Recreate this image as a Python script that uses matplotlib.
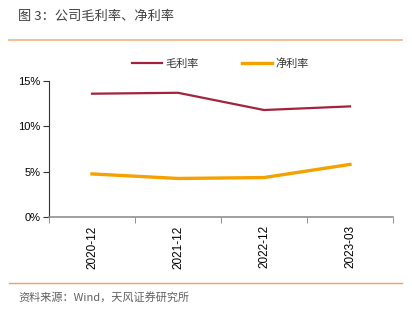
import matplotlib
matplotlib.use("Agg")
import matplotlib.pyplot as plt
from matplotlib.lines import Line2D

plt.rcParams['font.family'] = ['Noto Sans CJK SC', 'DejaVu Sans']

categories = ["2020-12", "2021-12", "2022-12", "2023-03"]
gross_margin = [13.6, 13.7, 11.8, 12.2]
net_margin = [4.75, 4.25, 4.35, 5.8]
yticks = [0, 5, 10, 15]
ytick_labels = ["0%", "5%", "10%", "15%"]

W, H = 412, 330
fig = plt.figure(figsize=(W / 100, H / 100), dpi=100)
ax = fig.add_axes([49 / W, 1 - 217 / H, (393 - 49) / W, (217 - 81) / H])

x = list(range(len(categories)))
ax.plot(x, gross_margin, color="#A3233F", lw=1.6, label="毛利率")
ax.plot(x, net_margin, color="#F5A200", lw=2.4, label="净利率")

ax.set_xlim(-0.5, len(categories) - 0.5)
ax.set_ylim(0, 15)
ax.set_yticks(yticks)
ax.set_yticklabels(ytick_labels, fontsize=8, family=['Liberation Sans', 'DejaVu Sans'])
ax.set_xticks(x)
ax.set_xticklabels(categories, rotation=90, fontsize=8.5, family=['Liberation Sans', 'DejaVu Sans'])
ax.tick_params(axis='x', length=0, pad=6)
ax.set_xticks([i - 0.5 for i in range(len(categories) + 1)], minor=True)
ax.tick_params(axis='x', which='minor', length=4, color="#808080", direction='out')
ax.tick_params(axis='y', length=4, color="#333333", direction='out', pad=2)

for s in ["top", "right"]:
    ax.spines[s].set_visible(False)
ax.spines["bottom"].set_color("#909090")
ax.spines["bottom"].set_linewidth(1.2)
ax.spines["left"].set_color("#333333")
ax.spines["left"].set_linewidth(0.8)

leg = fig.legend(handles=[Line2D([], [], color="#A3233F", lw=1.6),
                          Line2D([], [], color="#F5A200", lw=2.4)],
                 labels=["毛利率", "净利率"], loc="center",
                 bbox_to_anchor=(220 / W, 1 - 64 / H), ncol=2, frameon=False,
                 fontsize=8, handlelength=2.7, columnspacing=3.9, handletextpad=0.3)
for t in leg.get_texts():
    t.set_color("#333333")

fig.text(18 / W, 1 - 16 / H, "图 3：公司毛利率、净利率", fontsize=9.5, color="#404040",
         va="center", ha="left", fontweight="medium")
fig.add_artist(Line2D([9 / W, 402 / W], [1 - 40 / H, 1 - 40 / H], color="#F4B183", lw=1.2))
fig.add_artist(Line2D([9 / W, 402 / W], [1 - 283 / H, 1 - 283 / H], color="#F0A060", lw=1.0))
fig.text(18 / W, 1 - 297 / H, "资料来源：Wind，天风证券研究所", fontsize=8, color="#606060",
         va="center", ha="left")

fig.savefig("out.png", dpi=100)
